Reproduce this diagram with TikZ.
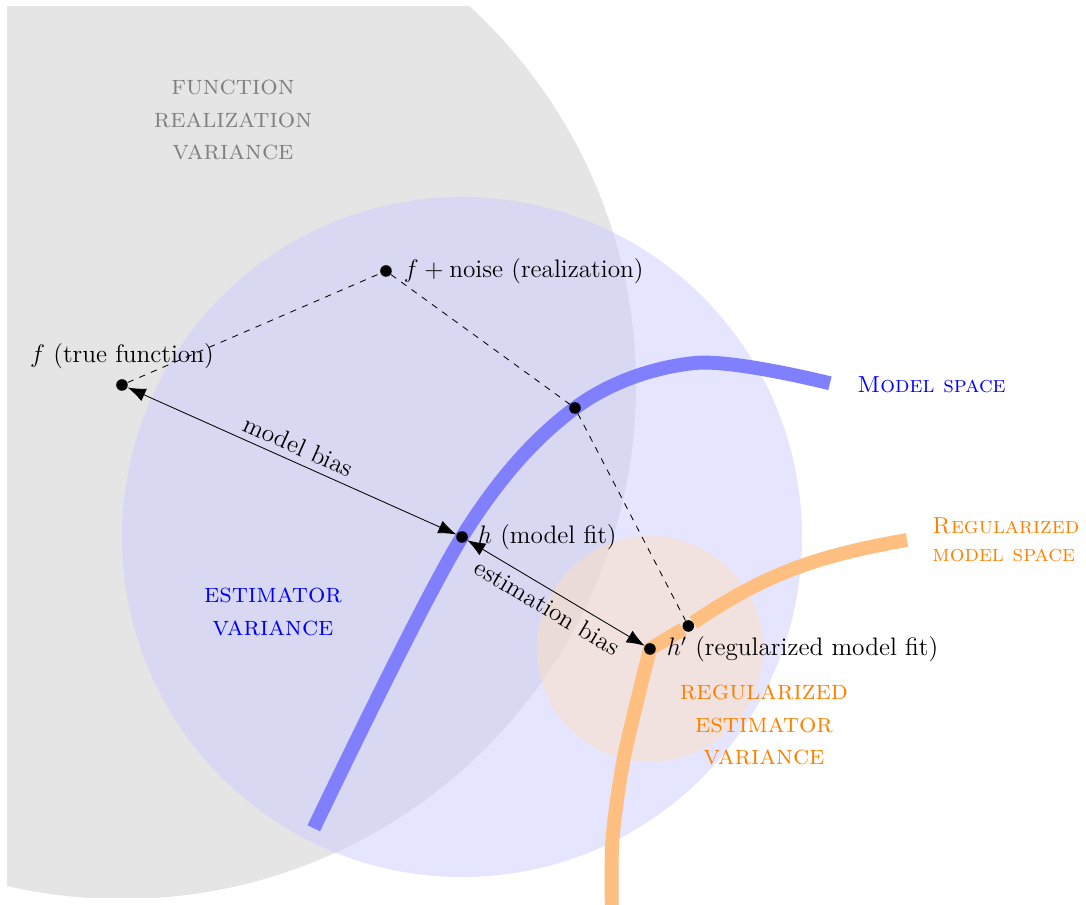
\documentclass[tikz,border=0pt]{standalone}
\usepackage{amsmath}
\usepackage{tikz}
\usetikzlibrary{arrows.meta,positioning}
\pgfdeclarelayer{background}
\pgfsetlayers{background,main}

\begin{document}
\begin{tikzpicture}[
    font=\large,
    dot/.style={circle, fill=black, inner sep=0pt, minimum size=5.5pt},
    note/.style={align=center, font=\fontsize{13}{15.5}\selectfont\scshape},
    tag/.style={anchor=west, align=left, font=\fontsize{11}{13.5}\selectfont\scshape},
    space/.style={line width=6.6pt, line cap=butt, line join=round},
    arrow/.style={{Latex[length=3mm]}-{Latex[length=3mm]}, thin},
    guide/.style={dashed, thin}
]
\useasboundingbox (0,0) rectangle (18.1,15.083);
\node[dot] (truef) at (2.033,8.667) {};
\node[dot] (noisy) at (6.433,10.567) {};
\node[dot] (fit) at (7.7,6.133) {};
\node[dot] (regfit) at (10.833,4.267) {};
\node[dot] (proj) at (9.583,8.283) {};
\node[dot] (regproj) at (11.472,4.65) {};

\node[above=1pt of truef] (ltruef) {$f$ (true function)};
\node[right=2pt of noisy] (lnoisy) {$f + \text{noise}$ (realization)};
\node[right=1pt of fit] (lfit) {$h$ (model fit)};
\node[right=1.5pt of regfit] (lregfit) {$h'$ (regularized model fit)};

\node[note, black!50] (realvar) at (3.883,13.083) {function\\realization\\variance};
\node[note, blue] (estvar) at (4.55,4.883) {estimator\\variance};
\node[note, orange] (regvar) at (12.733,3.0) {regularized\\estimator\\variance};
\node[tag, blue] (mspace) at (14.167,8.667) {Model space};
\node[tag, orange] (rspace) at (15.417,6.083) {Regularized\\model space};

\draw[guide] (truef) -- (noisy) -- (proj) -- (regproj);
\draw[arrow] (truef) -- node[above, sloped] {model bias} (fit);
\draw[arrow] (fit) -- node[below, sloped] {estimation bias} (regfit);

\begin{pgfonlayer}{background}
  \begin{scope}
    \clip (0.117,0.117) rectangle (18,14.967);
    \fill[black!10] (truef) circle (8.567);
  \end{scope}
  \fill[blue!20, opacity=.5] (fit) circle (5.667);
  \fill[orange!25, opacity=.5] (regfit) circle (1.883);
  % model spaces
  \draw[space, blue!50] plot[smooth, tension=.55] coordinates {(5.23,1.278) (fit) (proj) (11.583,9.033) (13.832,8.695)};
  \draw[space, orange!50] plot[smooth, tension=.5] coordinates {(10.2,-0.2) (10.207,1.083) (10.403,2.472) (regfit)}
    -- (regproj) to[out=34, in=190] (15.117,6.083);
\end{pgfonlayer}
\end{tikzpicture}
\end{document}
